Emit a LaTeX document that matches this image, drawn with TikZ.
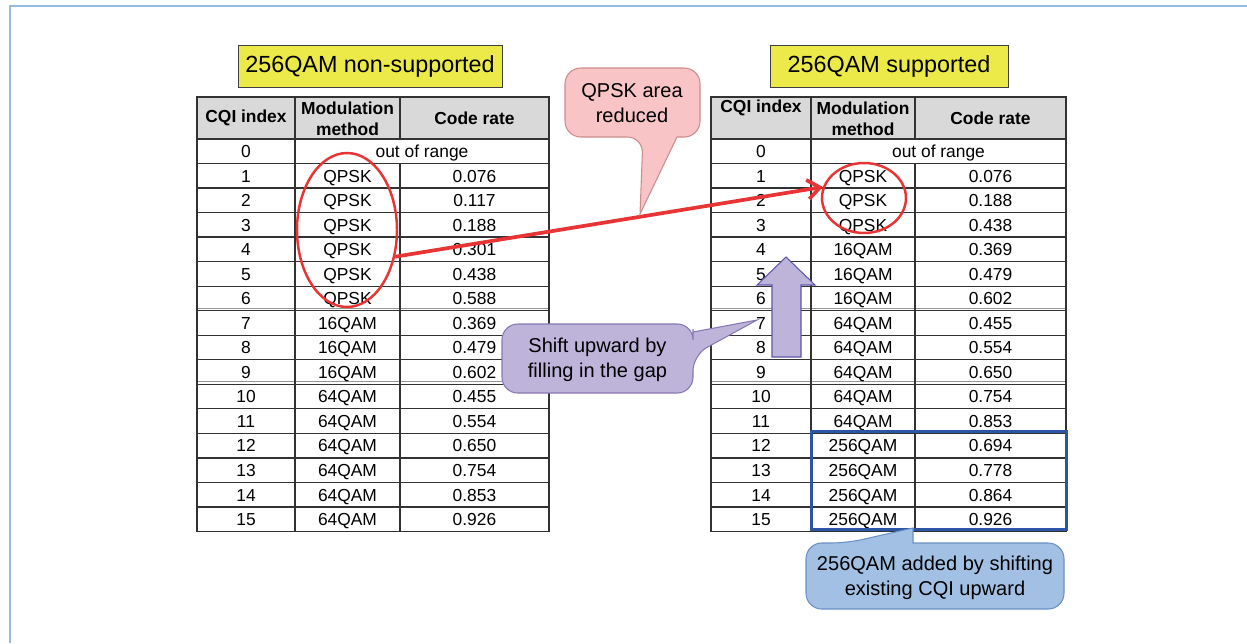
\documentclass[tikz,border=0pt]{standalone}
\usepackage{fontspec}
\setmainfont{Liberation Sans}
\usetikzlibrary{arrows.meta,shapes.geometric}
\definecolor{frameblue}{RGB}{150,185,230}
\definecolor{titleyellow}{RGB}{236,234,72}
\definecolor{hdrgray}{RGB}{217,217,217}
\definecolor{gridc}{RGB}{50,50,50}
\definecolor{gridg}{RGB}{150,150,150}
\definecolor{redc}{RGB}{232,52,52}
\definecolor{pinkfill}{RGB}{248,196,198}
\definecolor{pinkline}{RGB}{205,140,140}
\definecolor{lavfill}{RGB}{190,180,218}
\definecolor{lavline}{RGB}{135,120,178}
\definecolor{arrline}{RGB}{95,85,170}
\definecolor{bluefill}{RGB}{162,192,228}
\definecolor{blueline}{RGB}{105,145,200}
\definecolor{bluerect}{RGB}{45,85,165}
\newcommand{\tgrid}[4]{%
  \fill[hdrgray] (#1,97) rectangle (#4,139);
  \foreach \k in {0,...,16} {\draw[gridline] (#1,{139+24.53*\k}) -- (#4,{139+24.53*\k});}
  \foreach \k in {7,10} {\draw[gridgrayline] (#1,{139+24.53*\k-2.5}) -- (#4,{139+24.53*\k-2.5});}
  \draw[gridline] (#1,97) rectangle (#4,{139+24.53*16});
  \draw[gridline] (#2,97) -- (#2,{139+24.53*16});
  \draw[gridline] (#3,97) -- (#3,139) (#3,{139+24.53}) -- (#3,{139+24.53*16});
}
\begin{document}
\begin{tikzpicture}[x=0.02cm,y=-0.02cm,
  gridline/.style={draw=gridc,line width=0.75pt},
  gridgrayline/.style={draw=gridg,line width=0.6pt},
  titlebox/.style={draw=black!75,line width=0.5pt,fill=titleyellow,inner sep=0pt,
    minimum height=0.84cm,font=\fontsize{13.3}{15}\selectfont},
  hdr/.style={align=center,font=\fontsize{9.9}{12}\selectfont\bfseries,inner sep=0pt},
  cell/.style={inner sep=0pt,text height=7.2pt,text depth=0pt,font=\fontsize{9.9}{12}\selectfont},
  ring/.style={draw=redc,ellipse,line width=1.4pt,inner sep=0pt},
  ctext/.style={align=center,inner sep=0pt,font=\fontsize{11.4}{14}\selectfont}]
\useasboundingbox (0,0) rectangle (1247,643);
\fill[white] (0,0) rectangle (1247,643);
\draw[frameblue,line width=1.1pt] (10,643) -- (10,6) -- (1247,6);

% titles
\node[titlebox,minimum width=5.28cm] (tl) at (370,66) {256QAM non-supported};
\node[titlebox,minimum width=4.76cm] (tr) at (889,66) {256QAM supported};

% left table
\tgrid{197}{295}{400}{549}
\node[hdr] (Lh1) at (246,118) {CQI index};
\node[hdr] (Lh2) at (347.5,118.5) {Modulation\\method};
\node[hdr] (Lh3) at (474.5,118) {Code rate};
\node[cell] (La0) at (246,151.3) {0};
\node[cell] (Lb0) at (422,151.3) {out of range};
\foreach \i/\m/\rr in {1/QPSK/0.076,2/QPSK/0.117,3/QPSK/0.188,4/QPSK/0.301,5/QPSK/0.438,6/QPSK/0.588,7/16QAM/0.369,8/16QAM/0.479,9/16QAM/0.602,10/64QAM/0.455,11/64QAM/0.554,12/64QAM/0.650,13/64QAM/0.754,14/64QAM/0.853,15/64QAM/0.926}{
  \node[cell] (La\i) at (246,{139+24.53*(\i+0.5)}) {\i};
  \node[cell] (Lb\i) at (347.5,{139+24.53*(\i+0.5)}) {\m};
  \node[cell] (Lc\i) at (474.5,{139+24.53*(\i+0.5)}) {\rr};
}

% right table
\tgrid{711}{811}{915}{1066}
\node[hdr] (Rh1) at (761,108) {CQI index};
\node[hdr] (Rh2) at (863,118.5) {Modulation\\method};
\node[hdr] (Rh3) at (990.5,118) {Code rate};
\node[cell] (Ra0) at (761,151.3) {0};
\node[cell] (Rb0) at (938.5,151.3) {out of range};
\foreach \i/\m/\rr in {1/QPSK/0.076,2/QPSK/0.188,3/QPSK/0.438,4/16QAM/0.369,5/16QAM/0.479,6/16QAM/0.602,7/64QAM/0.455,8/64QAM/0.554,9/64QAM/0.650,10/64QAM/0.754,11/64QAM/0.853,12/256QAM/0.694,13/256QAM/0.778,14/256QAM/0.864,15/256QAM/0.926}{
  \node[cell] (Ra\i) at (761,{139+24.53*(\i+0.5)}) {\i};
  \node[cell] (Rb\i) at (863,{139+24.53*(\i+0.5)}) {\m};
  \node[cell] (Rc\i) at (990.5,{139+24.53*(\i+0.5)}) {\rr};
}

% blue frame around 256QAM rows
\draw[bluerect,line width=1.7pt] (811,431) rectangle (1066,529);

% red rings and arrow
\node[ring,minimum width=2cm,minimum height=3.08cm] (lell) at (347,230) {};
\node[ring,minimum width=1.68cm,minimum height=1.4cm] (rell) at (864,198) {};
\draw[redc,line width=2.1pt,-{Straight Barb[length=7pt,width=11pt]}] (lell.-29) -- (rell.165);

% pink callout
\draw[pinkline,fill=pinkfill,line width=0.6pt] (632,68) [rounded corners=9] -- (565,68) -- (565,137)
  -- (643,137) [sharp corners] -- (640,214) -- (677,137) -- (681,137) [rounded corners=9]
  -- (700,137) -- (700,68) -- cycle;
\node[ctext] (pk) at (632,103) {QPSK area\\reduced};

% purple up arrow
\draw[arrline,fill=lavfill,line width=0.6pt] (786,257) -- (815,285) -- (801,285) -- (801,357)
  -- (772,357) -- (772,285) -- (757,285) -- cycle;

% purple callout
\draw[lavline,fill=lavfill,line width=0.6pt] (597,324) [rounded corners=9] -- (502,324) -- (502,393)
  -- (693,393) -- (693,355) [sharp corners] -- (757,320) -- (693,332) -- (693,329) [rounded corners=9]
  -- (693,324) -- cycle;
\node[ctext] (pu) at (597.5,360) {Shift upward by\\filling in the gap};

% blue callout
\draw[blueline,fill=bluefill,line width=0.6pt] (806,576) [rounded corners=9] -- (806,543) -- (847,543)
  [sharp corners] -- (913,528) -- (913,543) -- (919,543) [rounded corners=9]
  -- (1064,543) -- (1064,609) -- (806,609) -- cycle;
\node[ctext] (bl) at (935,578) {256QAM added by shifting\\existing CQI upward};
\end{tikzpicture}
\end{document}
